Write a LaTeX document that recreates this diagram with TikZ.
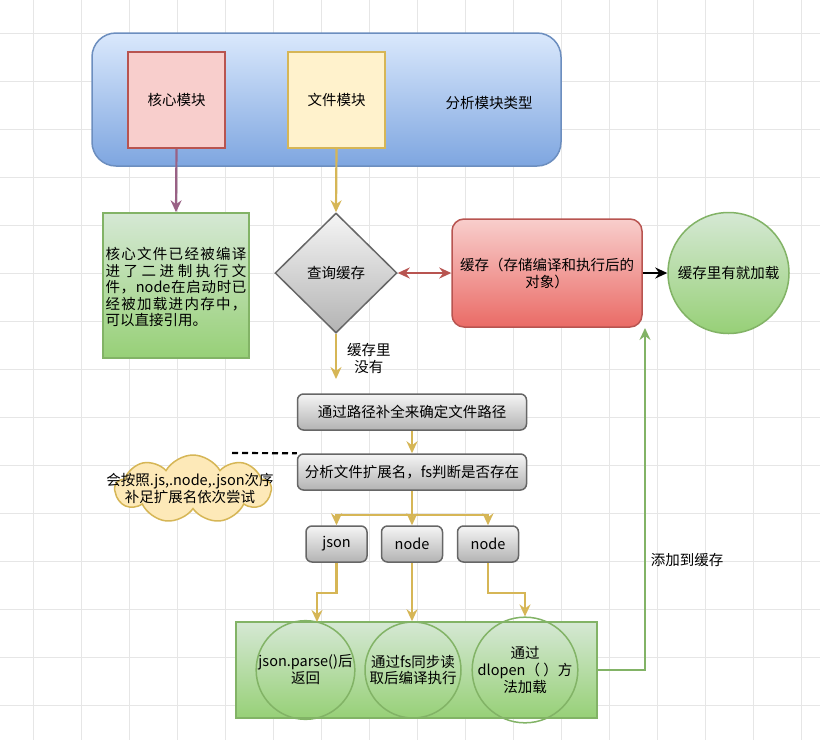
\documentclass[tikz,border=0pt]{standalone}
\usepackage{fontspec}
\setmainfont{Noto Sans CJK SC}
\usetikzlibrary{shapes.geometric,shapes.symbols,arrows.meta}
\definecolor{gridc}{HTML}{E6E6E6}
\definecolor{blueT}{HTML}{DAE8FC}
\definecolor{blueB}{HTML}{7EA6E0}
\definecolor{blueD}{HTML}{6C8EBF}
\definecolor{redF}{HTML}{F8CECC}
\definecolor{redB}{HTML}{EA6B66}
\definecolor{redD}{HTML}{B85450}
\definecolor{yelF}{HTML}{FFF2CC}
\definecolor{yelD}{HTML}{D6B656}
\definecolor{grnT}{HTML}{D5E8D4}
\definecolor{grnB}{HTML}{97D077}
\definecolor{grnD}{HTML}{82B366}
\definecolor{gryT}{HTML}{F5F5F5}
\definecolor{gryB}{HTML}{B3B3B3}
\definecolor{gryD}{HTML}{666666}
\definecolor{purp}{HTML}{996185}
\definecolor{cloudF}{HTML}{FDE9B8}
\begin{document}
\begin{tikzpicture}[x=1pt,y=-1pt,
  every node/.style={font=\fontsize{14.5}{17}\selectfont, inner sep=0pt},
  gridline/.style={draw=gridc, line width=0.8pt},
  bluebox/.style={draw=blueD, line width=1.5pt, top color=blueT, bottom color=blueB, rounded corners=24pt},
  redsq/.style={draw=redD, line width=1.5pt, fill=redF},
  yelsq/.style={draw=yelD, line width=1.5pt, fill=yelF},
  grnbox/.style={draw=grnD, line width=1.5pt, top color=grnT, bottom color=grnB},
  redbox/.style={draw=redD, line width=1.5pt, top color=redF, bottom color=redB, rounded corners=12pt},
  grybox/.style={draw=gryD, line width=1.5pt, top color=gryT, bottom color=gryB, rounded corners=6pt},
  decide/.style={diamond, aspect=1, draw=gryD, line width=1.5pt, top color=gryT, bottom color=gryB},
  grncirc/.style={circle, draw=grnD, line width=1.5pt, top color=grnT, bottom color=grnB},
  ringc/.style={circle, draw=grnD, line width=1.5pt},
  tip/.style={-{Stealth[length=12pt,width=11pt,inset=4pt]}},
  conn/.style={line width=2.2pt, tip},
]
\useasboundingbox (0,0) rectangle (820,740);
\fill[white] (0,0) rectangle (820,740);
\foreach \i in {33,81,...,801} \draw[gridline] (\i,0) -- (\i,740);
\foreach \j in {33,81,...,705} \draw[gridline] (0,\j) -- (820,\j);

% top container
\node[bluebox, minimum width=469pt, minimum height=133pt] (top) at (326.5,99.5) {};
\node (toplbl) at (489,103) {分析模块类型};
\node[redsq, minimum width=97pt, minimum height=96pt] (core) at (176.5,100) {核心模块};
\node[yelsq, minimum width=97pt, minimum height=96pt] (file) at (336.5,100) {文件模块};

% left green box
\node[grnbox, minimum width=146pt, minimum height=145pt] (leftbox) at (176,285.5) {};
\node[text width=141pt, align=left, font=\fontsize{14.5}{16.5}\selectfont] (lefttxt) at (176,287) {%
\makebox[141pt][s]{核\hfill 心\hfill 文\hfill 件\hfill 已\hfill 经\hfill 被\hfill 编\hfill 译}\\
\makebox[141pt][s]{进\hfill 了\hfill 二\hfill 进\hfill 制\hfill 执\hfill 行\hfill 文}\\
\makebox[141pt][s]{件\hfill ，\hfill node\hfill 在\hfill 启\hfill 动\hfill 时\hfill 已}\\
\makebox[141pt][s]{经\hfill 被\hfill 加\hfill 载\hfill 进\hfill 内\hfill 存\hfill 中\hfill ，}\\
可以直接引用。};

% decision & cache
\node[decide, minimum width=122pt, minimum height=120pt] (query) at (336,273) {查询缓存};
\node[redbox, minimum width=190pt, minimum height=108pt, align=center] (cache) at (547,273) {缓存（存储编译和执行后的\\对象）};
\node[grncirc, minimum size=121pt] (loaded) at (728.5,273) {缓存里有就加载};

% path boxes
\node[grybox, minimum width=229pt, minimum height=36pt] (path) at (412,412) {通过路径补全来确定文件路径};
\node[grybox, minimum width=229pt, minimum height=36pt] (ext) at (412,472) {分析文件扩展名，fs判断是否存在};

% cloud note
\node[cloud, cloud puffs=9, cloud puff arc=120, aspect=2.4, draw=yelD, line width=1.5pt, fill=cloudF, minimum width=156pt, minimum height=68pt] (note) at (193,489) {};
\node[align=center, font=\fontsize{14.5}{17}\selectfont] (notetxt) at (190,488) {会按照.js,.node,.json次序\\补足扩展名依次尝试};
\coordinate (dashend) at (232,453);

% extension boxes
\node[grybox, minimum width=61pt, minimum height=36pt] (json) at (336.5,544) {json};
\node[grybox, minimum width=61pt, minimum height=36pt] (nodeA) at (412,544) {node};
\node[grybox, minimum width=61pt, minimum height=36pt] (nodeB) at (488,544) {node};

% bottom container
\node[grnbox, minimum width=361pt, minimum height=96pt] (cont) at (416.5,670) {};
\node[ringc, minimum size=96pt, align=center] (c1) at (305.5,670) {json.parse()后\\返回};
\node[ringc, minimum size=96pt, align=center] (c2) at (413,670) {通过fs同步读\\取后编译执行};
\node[ringc, minimum size=96pt, align=center] (c3) at (525,670) {通过\\dlopen（ ）方\\法加载};
\coordinate (t1) at (317,622);
\coordinate (addtop) at (645,328);
\coordinate (nocache) at (336,379);

% connectors
\draw[conn, draw=purp] (core.south) -- (leftbox.north);
\draw[conn, draw=yelD] (file.south) -- (query.north);
\draw[line width=2.2pt, draw=redD, {Stealth[length=12pt,width=11pt,inset=4pt]}-{Stealth[length=12pt,width=11pt,inset=4pt]}] (query.east) -- (cache.west);
\draw[conn, draw=black] (cache.east) -- (loaded.west);
\draw[conn, draw=yelD] (query.south) -- node[right=10pt, align=center, pos=0.55] (nolbl) {缓存里\\没有} (nocache);
\draw[conn, draw=yelD] (path.south) -- (ext.north);
\draw[line width=2.2pt, dashed, dash pattern=on 6pt off 4pt] (dashend) -- (ext.north west);
\draw[conn, draw=yelD] (ext.south) -- ++(0,24) -| (json.north);
\draw[conn, draw=yelD] (ext.south) -- (nodeA.north);
\draw[conn, draw=yelD] (ext.south) -- ++(0,24) -| (nodeB.north);
\draw[conn, draw=yelD] (json.south) -- ++(0,30) -| (t1);
\draw[conn, draw=yelD] (nodeA.south) -- (nodeA.south |- c2.north);
\draw[conn, draw=yelD] (nodeB.south) -- ++(0,30) -| (c3.north);
\draw[conn, draw=grnD] (cont.east) -| (addtop);
\node (addlbl) at (687,560) {添加到缓存};
\end{tikzpicture}
\end{document}
